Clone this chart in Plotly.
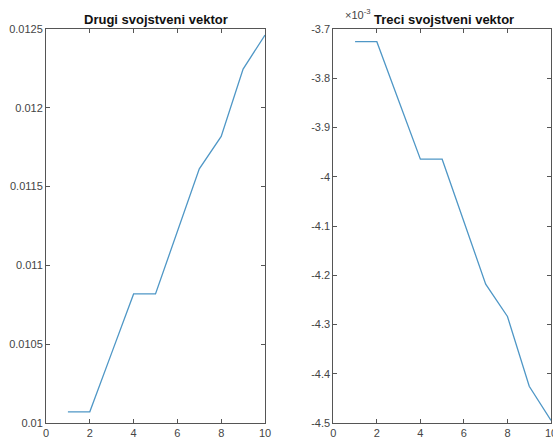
import plotly.graph_objects as go

x = [1, 2, 3, 4, 5, 6, 7, 8, 9, 10]
drugi = [0.010071, 0.010071, 0.010445, 0.010819, 0.010819, 0.011215, 0.011613, 0.011818, 0.012246, 0.012462]
treci = [-0.0037258, -0.0037258, -0.003845, -0.0039643, -0.0039643, -0.004091, -0.004218, -0.0042837, -0.0044254, -0.0044947]

titles = ["Drugi svojstveni vektor", "Treci svojstveni vektor"]
x_ticks = [0, 2, 4, 6, 8, 10]
left_yticks = [0.01, 0.0105, 0.011, 0.0115, 0.012, 0.0125]
left_yticktext = ["0.01", "0.0105", "0.011", "0.0115", "0.012", "0.0125"]
right_yticks = [-0.0045, -0.0044, -0.0043, -0.0042, -0.0041, -0.004, -0.0039, -0.0038, -0.0037]
right_yticktext = ["-4.5", "-4.4", "-4.3", "-4.2", "-4.1", "-4", "-3.9", "-3.8", "-3.7"]

W, H = 553, 438
ML, MR, MT, MB = 46, 2, 29, 14.5
PW = W - ML - MR
PH = H - MT - MB
line_color = "#4f97c6"
axis_color = "#555555"
tick_font = dict(family="Liberation Sans, Arial, sans-serif", size=11, color="#444444")
title_font = dict(family="Liberation Sans, Arial, sans-serif", size=13, color="#111111")

fig = go.Figure()
fig.add_trace(go.Scatter(x=x, y=drugi, mode="lines", line=dict(color=line_color, width=1.3),
                         xaxis="x", yaxis="y", showlegend=False))
fig.add_trace(go.Scatter(x=x, y=treci, mode="lines", line=dict(color=line_color, width=1.3),
                         xaxis="x2", yaxis="y2", showlegend=False))

common_x = dict(range=[0, 10], tickvals=x_ticks, ticks="inside", ticklen=4, tickcolor=axis_color,
                showline=True, linecolor=axis_color, linewidth=1, mirror="ticks", showgrid=False,
                zeroline=False, tickfont=tick_font, automargin=False, ticklabeloverflow="allow")
common_y = dict(ticks="inside", ticklen=4, tickcolor=axis_color, showline=True, linecolor=axis_color,
                linewidth=1, mirror="ticks", showgrid=False, zeroline=False, tickfont=tick_font,
                automargin=False, ticklabeloverflow="allow")

left_dom = [0, (265 - ML) / PW]
right_dom = [(333.3 - ML) / PW, 1]

def px_x(p):
    return (p - ML) / PW

def px_y(p):
    return (H - MB - p) / PH

fig.update_layout(
    width=W, height=H,
    margin=dict(l=ML, r=MR, t=MT, b=MB, autoexpand=False),
    paper_bgcolor="white", plot_bgcolor="white",
    xaxis=dict(domain=left_dom, anchor="y", **common_x),
    yaxis=dict(domain=[0, 1], anchor="x", range=[0.01, 0.0125], tickvals=left_yticks,
               ticktext=left_yticktext, **common_y),
    xaxis2=dict(domain=right_dom, anchor="y2", **common_x),
    yaxis2=dict(domain=[0, 1], anchor="x2", range=[-0.0045, -0.0037], tickvals=right_yticks,
                ticktext=right_yticktext, **common_y),
    annotations=[
        dict(text="<b>" + titles[0] + "</b>", x=px_x(155.5), y=px_y(19), xref="paper",
             yref="paper", xanchor="center", yanchor="middle", showarrow=False, font=title_font),
        dict(text="<b>" + titles[1] + "</b>", x=px_x(444), y=px_y(19), xref="paper",
             yref="paper", xanchor="center", yanchor="middle", showarrow=False, font=title_font),
        dict(text="×10<sup>-3</sup>", x=px_x(343), y=px_y(14), xref="paper", yref="paper",
             xanchor="left", yanchor="middle", showarrow=False,
             font=dict(family="Liberation Sans, Arial, sans-serif", size=11, color="#444444")),
    ],
)

fig.write_html("out.html", config={"displayModeBar": False},
               post_script="document.body.style.margin='0';document.body.style.overflow='hidden';")
